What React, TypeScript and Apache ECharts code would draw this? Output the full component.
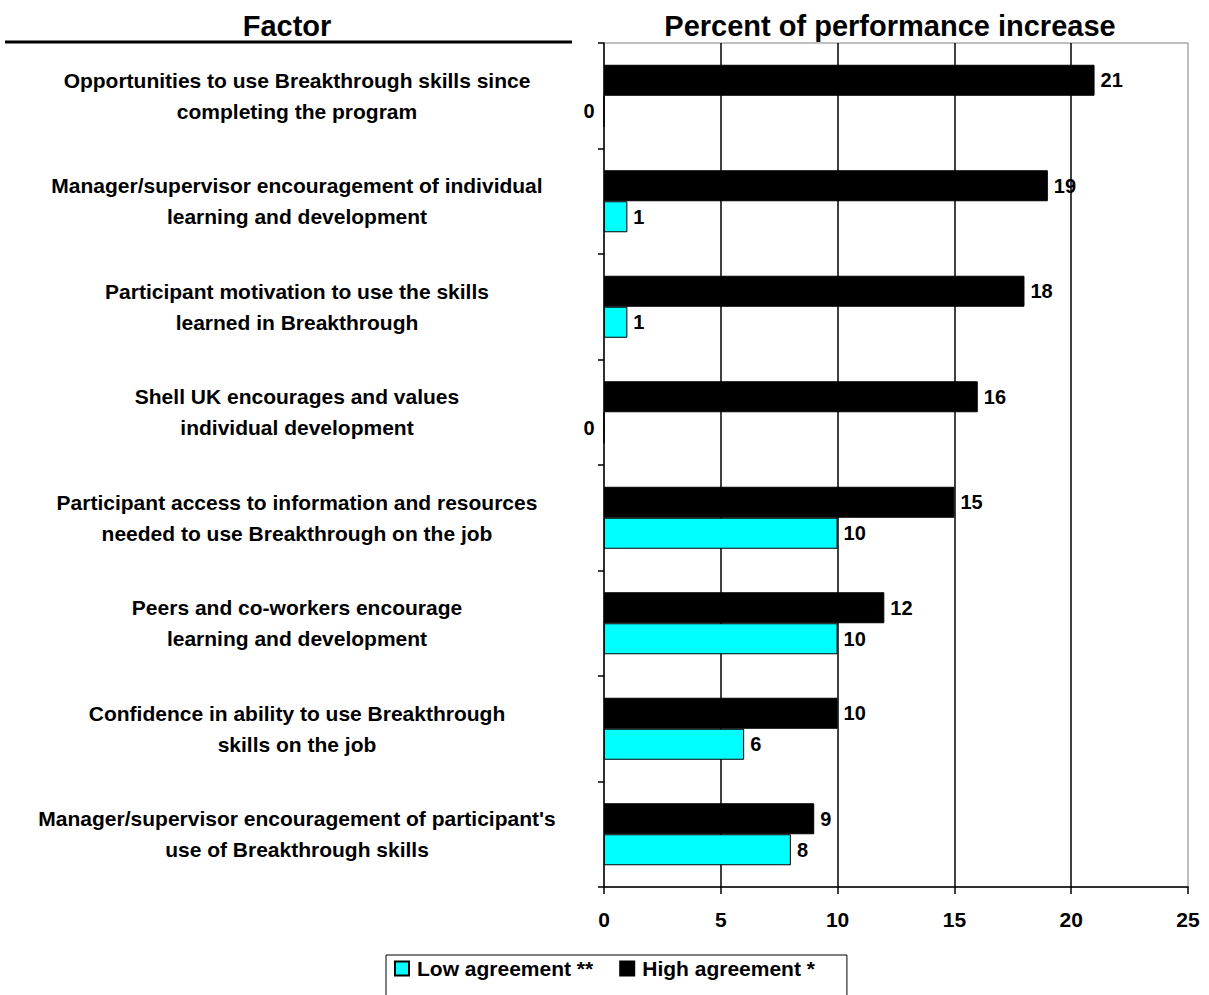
import React, { useEffect, useRef } from "react";
import * as echarts from "echarts";

// Factors, listed top to bottom
const factors: string[] = [
  "Opportunities to use Breakthrough skills since\ncompleting the program",
  "Manager/supervisor encouragement of individual\nlearning and development",
  "Participant motivation to use the skills\nlearned in Breakthrough",
  "Shell UK encourages and values\nindividual development",
  "Participant access to information and resources\nneeded to use Breakthrough on the job",
  "Peers and co-workers encourage\nlearning and development",
  "Confidence in ability to use Breakthrough\nskills on the job",
  "Manager/supervisor encouragement of participant's\nuse of Breakthrough skills",
];

// Percent of performance increase
const highAgreement: number[] = [21, 19, 18, 16, 15, 12, 10, 9];
const lowAgreement: number[] = [0, 1, 1, 0, 10, 10, 6, 8];

const xTicks = { min: 0, max: 25, interval: 5 };

const FONT = "'Liberation Sans', Arial, Helvetica, sans-serif";

export default function App() {
  const ref = useRef<HTMLDivElement>(null);

  useEffect(() => {
    if (!ref.current) return;
    const chart = echarts.init(ref.current, null, { renderer: "svg" });

    // zero values get their label on the left of the axis
    const withLabel = (v: number) => ({
      value: v,
      label: { position: v === 0 ? "left" : "right", distance: v === 0 ? 9 : 6 },
    });

    const valueLabel = {
      show: true,
      color: "#000",
      fontFamily: FONT,
      fontWeight: "bold" as const,
      fontSize: 20,
    };

    chart.setOption({
      animation: false,
      backgroundColor: "#fff",
      textStyle: { fontFamily: FONT },
      graphic: [
        {
          type: "text",
          x: 287,
          y: 26,
          style: {
            text: "Factor",
            font: `bold 29px ${FONT}`,
            fill: "#000",
            align: "center",
            verticalAlign: "middle",
          },
        },
        {
          type: "line",
          shape: { x1: 5, y1: 42, x2: 572, y2: 42 },
          style: { stroke: "#000", lineWidth: 3 },
        },
        {
          type: "text",
          x: 890,
          y: 26,
          style: {
            text: "Percent of performance increase",
            font: `bold 29px ${FONT}`,
            fill: "#000",
            align: "center",
            verticalAlign: "middle",
          },
        },
      ],
      legend: {
        data: ["Low agreement **", "High agreement *"],
        left: 386,
        top: 955,
        orient: "horizontal",
        icon: "rect",
        itemWidth: 14,
        itemHeight: 14,
        itemGap: 26,
        borderColor: "#000",
        borderWidth: 1,
        padding: [3, 32, 40, 8],
        textStyle: {
          color: "#000",
          fontFamily: FONT,
          fontWeight: "bold",
          fontSize: 21,
          padding: [0, 0, 0, 3],
        },
      },
      grid: {
        left: 604,
        right: 21,
        top: 43,
        bottom: 108,
        show: true,
        borderColor: "#808080",
        borderWidth: 1,
        containLabel: false,
      },
      xAxis: {
        type: "value",
        min: xTicks.min,
        max: xTicks.max,
        interval: xTicks.interval,
        axisLine: { show: true, lineStyle: { color: "#000", width: 1.5 } },
        axisTick: { show: true, length: 7, lineStyle: { color: "#000", width: 1.5 } },
        axisLabel: {
          color: "#000",
          fontFamily: FONT,
          fontWeight: "bold",
          fontSize: 21,
          margin: 22,
        },
        splitLine: {
          show: true,
          showMinLine: false,
          showMaxLine: false,
          lineStyle: { color: "#000", width: 1.5 },
        },
      },
      yAxis: {
        type: "category",
        data: factors,
        inverse: true,
        axisLine: { show: true, lineStyle: { color: "#000", width: 1.5 } },
        axisTick: { show: true, length: 6, lineStyle: { color: "#000", width: 1.5 } },
        axisLabel: {
          color: "#000",
          fontFamily: FONT,
          fontWeight: "bold",
          fontSize: 21,
          lineHeight: 31,
          align: "center",
          margin: 307,
          padding: [0, 0, 11, 0],
        },
      },
      series: [
        {
          name: "High agreement *",
          type: "bar",
          data: highAgreement.map(withLabel),
          barWidth: 31,
          barGap: "0%",
          itemStyle: { color: "#000", borderColor: "#000", borderWidth: 1 },
          label: valueLabel,
        },
        {
          name: "Low agreement **",
          type: "bar",
          data: lowAgreement.map(withLabel),
          barWidth: 31,
          barGap: "0%",
          itemStyle: { color: "#00ffff", borderColor: "#000", borderWidth: 1 },
          label: valueLabel,
        },
      ],
    });

    return () => chart.dispose();
  }, []);

  return <div ref={ref} style={{ width: 1209, height: 995, position: "absolute", left: 0, top: 0 }} />;
}
